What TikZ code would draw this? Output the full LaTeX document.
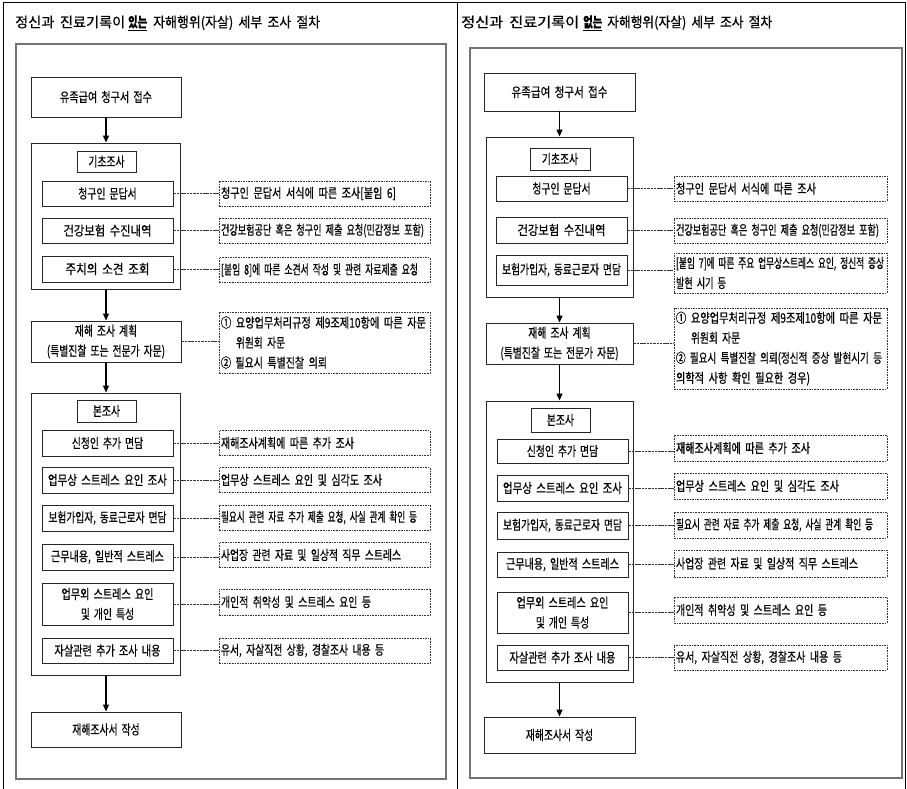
\documentclass[tikz,border=0pt]{standalone}
\usepackage{fontspec}
\usepackage{graphicx}
\setmainfont{Noto Sans CJK KR}[FakeStretch=0.74,WordSpace=1.8,FakeBold=0.5]
\usetikzlibrary{arrows.meta}
\newcommand{\fw}[2]{\resizebox{#1pt}{\height}{#2}}
\tikzset{
  box/.style={draw=black!85, line width=0.9pt, inner sep=1pt, align=center},
  grp/.style={draw=black!85, line width=0.9pt, inner sep=0pt},
  dbox/.style={draw=black!80, line width=0.7pt, dash pattern=on 1.6pt off 1pt, inner xsep=2pt, inner ysep=0pt, align=left},
  panel/.style={draw=black!55, line width=1.4pt},
  frame/.style={draw=black, line width=1pt},
  conn/.style={draw=black!80, line width=0.8pt, dash pattern=on 2.5pt off 0.8pt},
  arr/.style={-{Triangle[length=7pt,width=6pt]}, line width=1.2pt},
  ttl/.style={anchor=west, inner sep=0pt, font=\fontsize{14}{16}\selectfont}
}
\begin{document}
\begin{tikzpicture}[x=1pt, y=-1pt, font=\fontsize{13.3}{20}\selectfont]
\useasboundingbox (0,0) rectangle (907,788);
% outer frame
\draw[frame] (3,792) -- (3,2) -- (905,2) -- (905,792);
\draw[frame] (457,2) -- (457,792);
% titles
\node[ttl] (lt) at (15,23) {\fw{110}{정신과 진료기록이}\hspace{3pt}\underline{\fw{19}{\bfseries 있는}}\hspace{6pt}\fw{167}{자해행위(자살) 세부 조사 절차}};
\node[ttl] (rt) at (461,23) {\fw{118}{정신과 진료기록이}\hspace{4pt}\underline{\fw{19}{\bfseries 없는}}\hspace{5pt}\fw{165}{자해행위(자살) 세부 조사 절차}};
% inner panels
\node[panel, minimum width=430, minimum height=735, inner sep=0pt] (lp) at (231,411.5) {};
\node[panel, minimum width=432, minimum height=730, inner sep=0pt] (rp) at (686,413) {};

% ================= LEFT =================
\node[box, minimum width=150, minimum height=40] (l0) at (106,97) {\fw{92}{유족급여 청구서 접수}};
\node[grp, minimum width=149, minimum height=146] (lg1) at (105.5,216) {};
\node[box, minimum width=59, minimum height=21] (ll1) at (106.5,161.5) {기초조사};
\node[box, minimum width=131, minimum height=25] (l1a) at (107.5,193.5) {청구인 문답서};
\node[box, minimum width=131, minimum height=25] (l1b) at (107.5,230.5) {\fw{88}{건강보험 수진내역}};
\node[box, minimum width=131, minimum height=26] (l1c) at (107.5,269) {\fw{84}{주치의 소견 조회}};
\node[dbox, text width=207, minimum height=25] (ld1a) at (324.5,193.5) {\fw{175}{청구인 문답서 서식에 따른 조사[붙임 6]}};
\node[dbox, text width=207, minimum height=25] (ld1b) at (324.5,230.5) {\fw{203}{건강보험공단 혹은 청구인 제출 요청(민감정보 포함)}};
\node[dbox, text width=207, minimum height=25] (ld1c) at (324.5,270) {\fw{197}{[붙임 8]에 따른 소견서 작성 및 관련 자료제출 요청}};
\node[box, minimum width=150, minimum height=41] (lpl) at (106,341.5) {재해 조사 계획\\(특별진찰 또는 전문가 자문)};
\node[dbox, text width=207, minimum height=61] (ldpl) at (324.5,342.5) {\fw{205}{① 요양업무처리규정 제9조제10항에 따른 자문}\\\hspace*{15pt}\fw{49}{위원회 자문}\\\fw{106}{② 필요시 특별진찰 의뢰}};
\node[grp, minimum width=149, minimum height=282] (lg2) at (105.5,534) {};
\node[box, minimum width=59, minimum height=22] (ll2) at (106.5,411) {본조사};
\node[box, minimum width=131, minimum height=26] (l2a) at (107.5,443) {신청인 추가 면담};
\node[box, minimum width=131, minimum height=26] (l2b) at (107.5,480) {\fw{119}{업무상 스트레스 요인 조사}};
\node[box, minimum width=131, minimum height=26] (l2c) at (107.5,518) {\fw{118}{보험가입자, 동료근로자 면담}};
\node[box, minimum width=131, minimum height=26] (l2d) at (107.5,557) {\fw{113}{근무내용, 일반적 스트레스}};
\node[box, minimum width=131, minimum height=42] (l2e) at (107.5,604) {\fw{92}{업무외 스트레스 요인}\\및 개인 특성};
\node[box, minimum width=131, minimum height=25] (l2f) at (107.5,650.5) {\fw{106}{자살관련 추가 조사 내용}};
\node[dbox, text width=207, minimum height=25] (ld2a) at (324.5,443) {\fw{133}{재해조사계획에 따른 추가 조사}};
\node[dbox, text width=207, minimum height=25] (ld2b) at (324.5,480) {\fw{161}{업무상 스트레스 요인 및 심각도 조사}};
\node[dbox, text width=207, minimum height=25] (ld2c) at (324.5,517.5) {\fw{196}{필요시 관련 자료 추가 제출 요청, 사실 관계 확인 등}};
\node[dbox, text width=207, minimum height=25] (ld2d) at (324.5,555) {\fw{180}{사업장 관련 자료 및 일상적 직무 스트레스}};
\node[dbox, text width=207, minimum height=26] (ld2e) at (324.5,602) {\fw{150}{개인적 취약성 및 스트레스 요인 등}};
\node[dbox, text width=207, minimum height=25] (ld2f) at (324.5,650.5) {\fw{163}{유서, 자살직전 상황, 경찰조사 내용 등}};
\node[box, minimum width=150, minimum height=35] (lend) at (106,729.5) {재해조사서 작성};

\draw[arr] (l0.south) -- (l0.south |- lg1.north);
\draw[arr] (l0.south |- lg1.south) -- (lpl.north);
\draw[arr] (lpl.south) -- (lpl.south |- lg2.north);
\draw[arr] (l0.south |- lg2.south) -- (lend.north);
\foreach \a/\b in {l1a/ld1a, l1b/ld1b, l1c/ld1c, l2a/ld2a, l2b/ld2b, l2c/ld2c, l2d/ld2d, l2e/ld2e, l2f/ld2f}
  \draw[conn] (\a.east) -- (\a.east -| \b.west);
\draw[conn] (lpl.east) -- (lpl.east -| ldpl.west);

% ================= RIGHT =================
\node[box, minimum width=151, minimum height=38] (r0) at (559.5,92) {\fw{96}{유족급여 청구서 접수}};
\node[grp, minimum width=147, minimum height=160] (rg1) at (559.5,217) {};
\node[box, minimum width=60, minimum height=22] (rl1) at (560,159) {기초조사};
\node[box, minimum width=131, minimum height=25] (r1a) at (561.5,188.5) {청구인 문답서};
\node[box, minimum width=131, minimum height=26] (r1b) at (561.5,230) {\fw{88}{건강보험 수진내역}};
\node[box, minimum width=131, minimum height=30] (r1c) at (561.5,270) {\fw{119}{보험가입자, 동료근로자 면담}};
\node[dbox, text width=209, minimum height=25] (rd1a) at (780.5,188.5) {\fw{140}{청구인 문답서 서식에 따른 조사}};
\node[dbox, text width=209, minimum height=25] (rd1b) at (780.5,230.5) {\fw{203}{건강보험공단 혹은 청구인 제출 요청(민감정보 포함)}};
\node[dbox, text width=209, minimum height=40] (rd1c) at (780.5,273) {\fw{208}{[붙임 7]에 따른 주요 업무상스트레스 요인, 정신적 증상}\\\fw{50}{발현 시기 등}};
\node[box, minimum width=147, minimum height=41] (rpl) at (559.5,343.5) {재해 조사 계획\\(특별진찰 또는 전문가 자문)};
\node[dbox, text width=209, minimum height=81] (rdpl) at (780.5,348.5) {\fw{206}{① 요양업무처리규정 제9조제10항에 따른 자문}\\\hspace*{15pt}\fw{49}{위원회 자문}\\\fw{206}{② 필요시 특별진찰 의뢰(정신적 증상 발현시기 등}\\\fw{134}{의학적 사항 확인 필요한 경우)}};
\node[grp, minimum width=147, minimum height=281] (rg2) at (559.5,541.5) {};
\node[box, minimum width=59, minimum height=24] (rl2) at (560.5,420) {본조사};
\node[box, minimum width=131, minimum height=24] (r2a) at (562.5,451) {신청인 추가 면담};
\node[box, minimum width=131, minimum height=26] (r2b) at (562.5,488) {\fw{119}{업무상 스트레스 요인 조사}};
\node[box, minimum width=131, minimum height=27] (r2c) at (562.5,525.5) {\fw{119}{보험가입자, 동료근로자 면담}};
\node[box, minimum width=131, minimum height=25] (r2d) at (562.5,564.5) {\fw{113}{근무내용, 일반적 스트레스}};
\node[box, minimum width=131, minimum height=41] (r2e) at (562.5,612.5) {\fw{92}{업무외 스트레스 요인}\\및 개인 특성};
\node[box, minimum width=131, minimum height=25] (r2f) at (562.5,657.5) {\fw{106}{자살관련 추가 조사 내용}};
\node[dbox, text width=209, minimum height=26] (rd2a) at (780.5,448) {\fw{134}{재해조사계획에 따른 추가 조사}};
\node[dbox, text width=209, minimum height=26] (rd2b) at (780.5,486) {\fw{163}{업무상 스트레스 요인 및 심각도 조사}};
\node[dbox, text width=209, minimum height=26] (rd2c) at (780.5,525) {\fw{197}{필요시 관련 자료 추가 제출 요청, 사실 관계 확인 등}};
\node[dbox, text width=209, minimum height=27] (rd2d) at (780.5,563.5) {\fw{182}{사업장 관련 자료 및 일상적 직무 스트레스}};
\node[dbox, text width=209, minimum height=26] (rd2e) at (780.5,610) {\fw{151}{개인적 취약성 및 스트레스 요인 등}};
\node[dbox, text width=209, minimum height=25] (rd2f) at (780.5,657.5) {\fw{166}{유서, 자살직전 상황, 경찰조사 내용 등}};
\node[box, minimum width=151, minimum height=36] (rend) at (559.5,735) {재해조사서 작성};

\draw[arr] (r0.south) -- (r0.south |- rg1.north);
\draw[arr] (r0.south |- rg1.south) -- (rpl.north);
\draw[arr] (rpl.south) -- (rpl.south |- rg2.north);
\draw[arr] (r0.south |- rg2.south) -- (rend.north);
\foreach \a/\b in {r1a/rd1a, r1b/rd1b, r1c/rd1c, r2a/rd2a, r2b/rd2b, r2c/rd2c, r2d/rd2d, r2e/rd2e, r2f/rd2f}
  \draw[conn] (\a.east) -- (\a.east -| \b.west);
\draw[conn] (rpl.east) -- (rpl.east -| rdpl.west);
\end{tikzpicture}
\end{document}
